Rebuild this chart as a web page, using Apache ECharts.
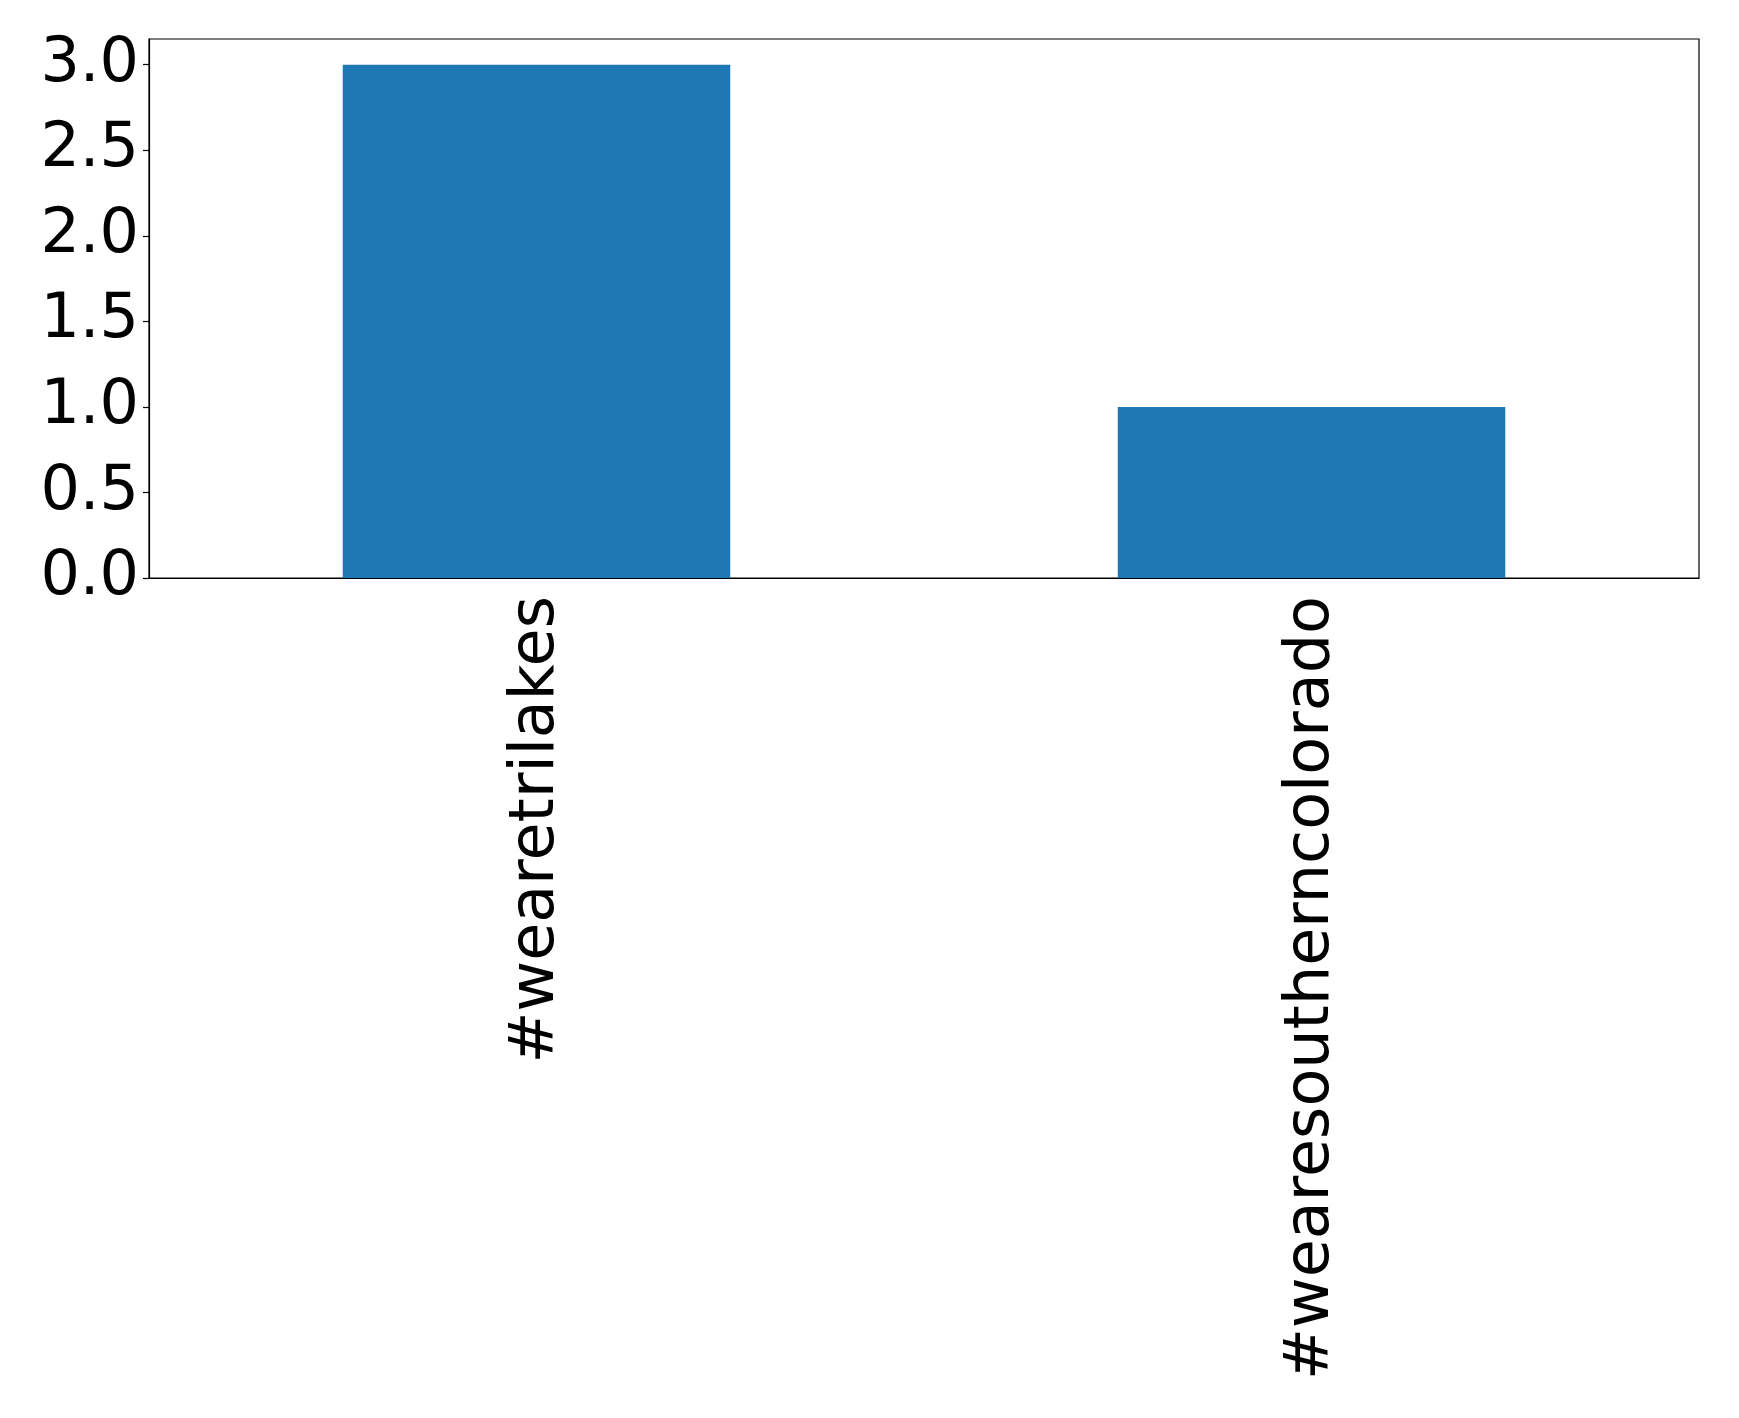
<!DOCTYPE html>
<html><head><meta charset="utf-8">
<script src="https://cdn.jsdelivr.net/npm/echarts@6/dist/echarts.min.js"></script>
<style>html,body{margin:0;padding:0;background:#fff}#c{width:1739px;height:1418px}</style>
</head><body><div id="c"></div>
<script>
const categories = ['#wearetrilakes', '#wearesoutherncolorado'];
const values = [3, 1];
const yTicks = [0, 0.5, 1.0, 1.5, 2.0, 2.5, 3.0];

const chart = echarts.init(document.getElementById('c'), null, {renderer: 'canvas'});
chart.setOption({
  animation: false,
  backgroundColor: '#fff',
  grid: {left: 149, top: 39, right: 40, bottom: 840, show: true, borderColor: '#000', borderWidth: 1.2, backgroundColor: 'transparent'},
  xAxis: {
    type: 'category', data: categories,
    axisLine: {lineStyle: {color: '#000', width: 1.2}},
    axisTick: {alignWithLabel: true, length: 6, lineStyle: {color: '#000', width: 1.2}},
    axisLabel: {rotate: 90, fontSize: 62, fontFamily: 'DejaVu Sans', color: '#000', margin: 18, interval: 0,
      padding: [14, 0, 0, 0], lineHeight: 62}
  },
  yAxis: {
    type: 'value', min: 0, max: 3.15, interval: 0.5,
    splitLine: {show: false},
    axisLine: {show: true, lineStyle: {color: '#000', width: 1.2}},
    axisTick: {show: true, length: 6, lineStyle: {color: '#000', width: 1.2}},
    axisLabel: {fontSize: 62, fontFamily: 'DejaVu Sans', color: '#000', margin: 10, showMaxLabel: false,
      formatter: v => yTicks.some(t => Math.abs(t - v) < 1e-6) ? v.toFixed(1) : ''}
  },
  series: [{type: 'bar', data: values, barWidth: '50%', itemStyle: {color: '#1f77b4'}}]
});
</script></body></html>
